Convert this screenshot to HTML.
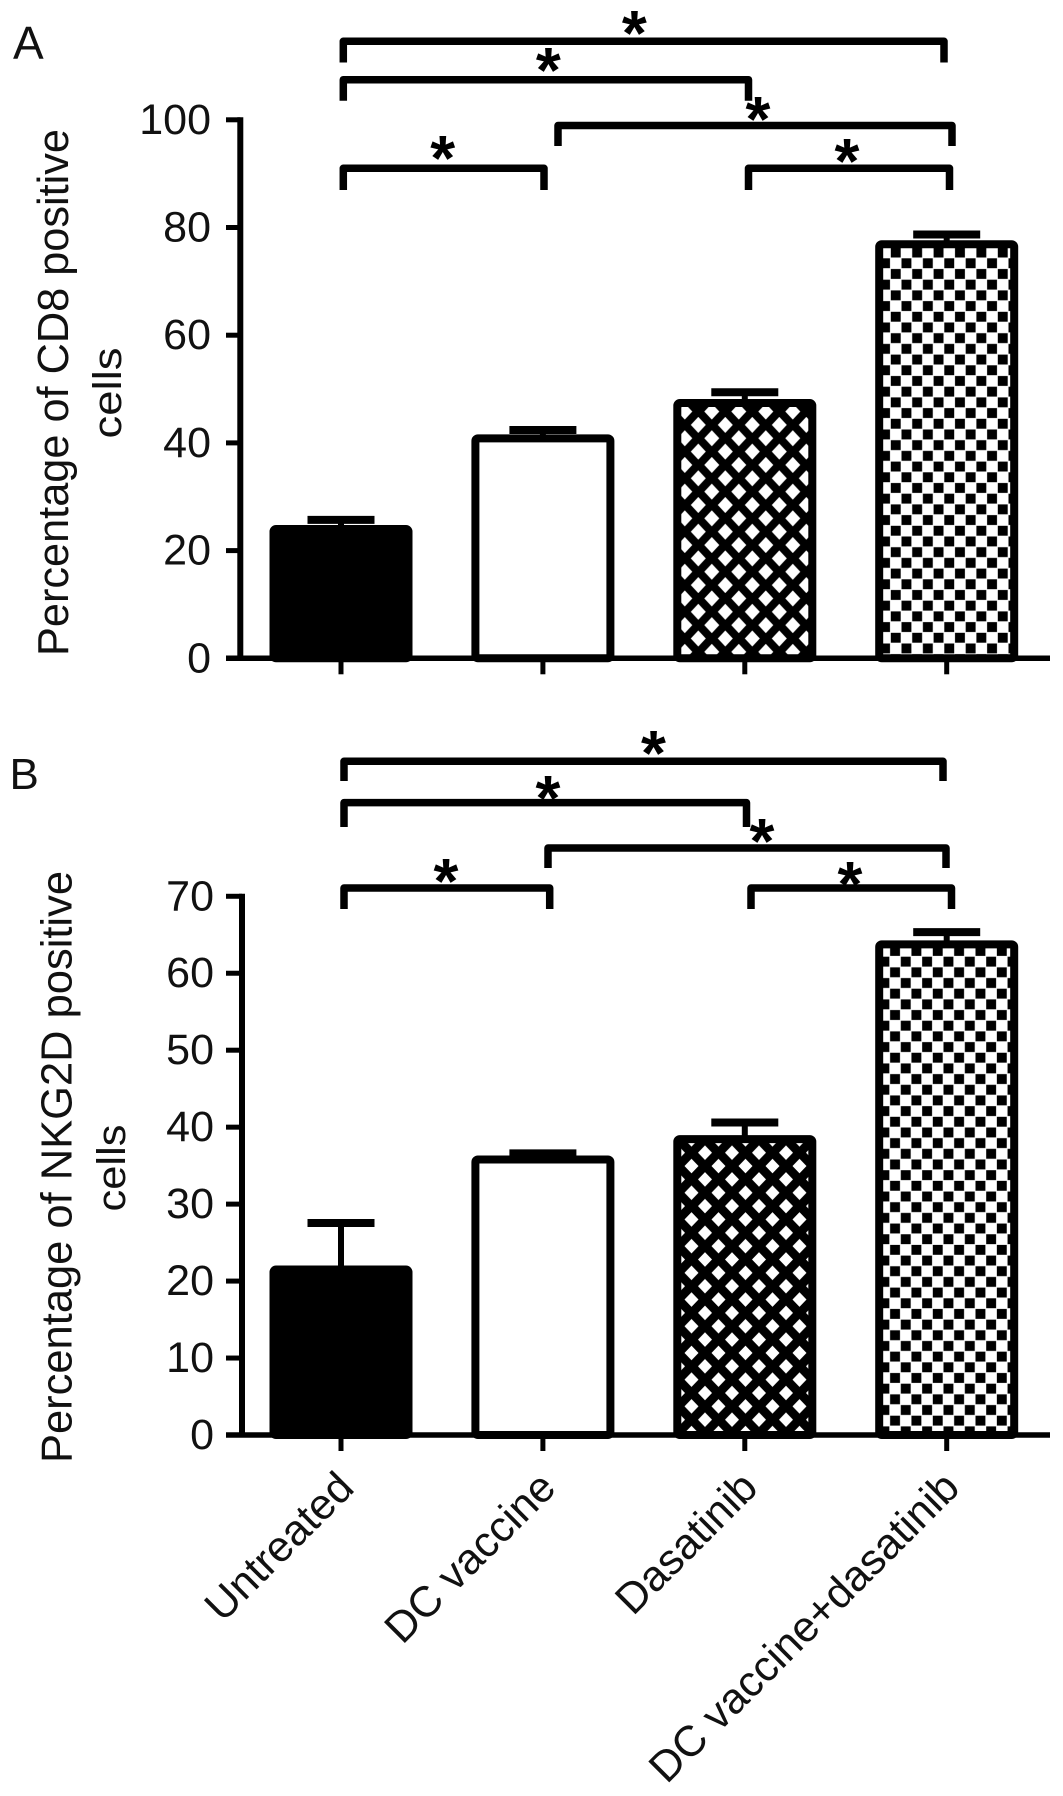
<!DOCTYPE html>
<html lang="en">
<head>
<meta charset="utf-8">
<title>CD8 and NKG2D positive cells</title>
<style>
html,body{margin:0;padding:0;background:#fff;}
svg{display:block;}
text{font-family:"Liberation Sans",sans-serif;fill:#111;}
.star{font-size:64px;font-weight:bold;text-anchor:middle;fill:#000;}
.br{fill:none;stroke:#000;stroke-width:7.5;stroke-linejoin:round;}
</style>
</head>
<body>
<svg id="chart" xmlns="http://www.w3.org/2000/svg" width="1063" height="1796" viewBox="0 0 1063 1796">
  <defs>
    <pattern id="lattice-a" patternUnits="userSpaceOnUse" width="27" height="26.7" x="684.8" y="518.35">
      <rect width="27" height="26.7" fill="#000"/>
      <path d="M13.5 5.35L21 13.35L13.5 21.35L6 13.35Z M0 -8L7.5 0L0 8L-7.5 0Z M27 -8L34.5 0L27 8L19.5 0Z M0 18.7L7.5 26.7L0 34.7L-7.5 26.7Z M27 18.7L34.5 26.7L27 34.7L19.5 26.7Z" fill="#fff"/>
    </pattern>
    <pattern id="lattice-b" patternUnits="userSpaceOnUse" width="27" height="26.7" x="691.5" y="1139.35">
      <rect width="27" height="26.7" fill="#000"/>
      <path d="M13.5 6L20.5 13.35L13.5 20.7L6.5 13.35Z M0 -7.35L7 0L0 7.35L-7 0Z M27 -7.35L34 0L27 7.35L20 0Z M0 19.35L7 26.7L0 34L-7 26.7Z M27 19.35L34 26.7L27 34L20 26.7Z" fill="#fff"/>
    </pattern>
    <pattern id="checker-a" patternUnits="userSpaceOnUse" width="21.4" height="21.4" x="890.4" y="525.4">
      <rect width="21.4" height="21.4" fill="#fff"/>
      <rect x="0.4" y="0.4" width="9.9" height="9.9" fill="#000"/>
      <rect x="11.1" y="11.1" width="9.9" height="9.9" fill="#000"/>
    </pattern>
    <pattern id="checker-b" patternUnits="userSpaceOnUse" width="21.35" height="21.35" x="889.7" y="1116.4">
      <rect width="21.35" height="21.35" fill="#fff"/>
      <rect x="0.4" y="0.4" width="9.9" height="9.9" fill="#000"/>
      <rect x="11.1" y="11.1" width="9.9" height="9.9" fill="#000"/>
    </pattern>
  </defs>

  <text x="13" y="59" font-size="46">A</text>
  <text x="9.5" y="789" font-size="44">B</text>

  <text transform="translate(68,392.5) rotate(-90)" text-anchor="middle" font-size="44" textLength="527" lengthAdjust="spacingAndGlyphs">Percentage of CD8 positive</text>
  <text transform="translate(121,393) rotate(-90)" text-anchor="middle" font-size="40" textLength="91" lengthAdjust="spacingAndGlyphs">cells</text>
  <text transform="translate(71.5,1167) rotate(-90)" text-anchor="middle" font-size="44" textLength="592" lengthAdjust="spacingAndGlyphs">Percentage of NKG2D positive</text>
  <text transform="translate(125,1168) rotate(-90)" text-anchor="middle" font-size="40" textLength="87" lengthAdjust="spacingAndGlyphs">cells</text>

  <g id="panel-a"></g>
  <g id="panel-b"></g>

  <g>
    <path class="br" d="M343.3 62.5V41.3H944V62.5"/>
    <path class="br" d="M343.3 100.7V79.7H748.5V100.7"/>
    <path class="br" d="M558 146V125.5H952V146"/>
    <path class="br" d="M343.3 190V168.3H544V190"/>
    <path class="br" d="M748.5 190V168.3H949.5V190"/>
    <text class="star" x="634.3" y="55">*</text>
    <text class="star" x="548.3" y="92">*</text>
    <text class="star" x="758" y="141">*</text>
    <text class="star" x="442.7" y="180">*</text>
    <text class="star" x="847" y="183">*</text>
  </g>
  <g>
    <path class="br" d="M344 781V761.3H943V781"/>
    <path class="br" d="M344 827V802.6H746.5V827"/>
    <path class="br" d="M548 868V848H946V868"/>
    <path class="br" d="M344 909V888H549.7V909"/>
    <path class="br" d="M751 909V888H951.5V909"/>
    <text class="star" x="653.5" y="775">*</text>
    <text class="star" x="548" y="820">*</text>
    <text class="star" x="762" y="863">*</text>
    <text class="star" x="446" y="903">*</text>
    <text class="star" x="850" y="906">*</text>
  </g>
</svg>
<script>
var categories = ["Untreated", "DC vaccine", "Dasatinib", "DC vaccine+dasatinib"];
var panelAValues = [24.0, 40.85, 47.4, 76.9];
var panelAErrors = [1.7, 1.55, 2.0, 1.8];
var panelATicks = [0, 20, 40, 60, 80, 100];
var panelBValues = [21.5, 35.8, 38.45, 63.75];
var panelBErrors = [6.05, 0.8, 2.15, 1.6];
var panelBTicks = [0, 10, 20, 30, 40, 50, 60, 70];

var NS = "http://www.w3.org/2000/svg";
function xPos(i) { return 341 + i * 201.9; }
function yA(v) { return 658.3 - v * 5.385; }
function yB(v) { return 1435 - v * 7.696; }

function make(parent, tag, props) {
  var el = document.createElementNS(NS, tag);
  for (var k in props) { el.setAttribute(k, props[k]); }
  parent.appendChild(el);
  return el;
}

function drawPanel(gId, yScale, values, errors, ticks, fills, axisX, tickRight, showLabels) {
  var g = document.getElementById(gId);
  var base = yScale(0);
  var barHalf = 67.5;
  var i, el;

  for (i = 0; i < values.length; i++) {
    var cx = xPos(i);
    var top = yScale(values[i]);
    var capY = yScale(values[i] + errors[i]);
    el = make(g, "line", { x1: cx, x2: cx, y1: top, y2: capY, stroke: "#000", "stroke-width": 6 });
    
    
    el = make(g, "line", { x1: cx - 33.5, x2: cx + 33.5, y1: capY, y2: capY, stroke: "#000", "stroke-width": 8 });
    
    
    el = make(g, "rect", { x: cx - barHalf, y: top, width: barHalf * 2, height: base - top, rx: 2.5, fill: fills[i], stroke: "#000", "stroke-width": 8 });
    
    
    el = make(g, "line", { x1: cx, x2: cx, y1: base, y2: base + 16, stroke: "#000", "stroke-width": 5 });
    
    
    if (showLabels) {
      el = make(g, "text", { transform: "translate(" + (cx + 15) + "," + (base + 55) + ") rotate(-45)", "text-anchor": "end", "font-size": 43 });
      el.textContent = categories[i];
      
      
    }
  }

  var top0 = yScale(ticks[ticks.length - 1]);
  el = make(g, "line", { x1: axisX, x2: axisX, y1: top0 - 2.5, y2: base, stroke: "#000", "stroke-width": 6 });
  
  
  el = make(g, "line", { x1: 226, x2: 1050, y1: base, y2: base, stroke: "#000", "stroke-width": 5.5 });
  
  

  for (i = 0; i < ticks.length; i++) {
    var ty = yScale(ticks[i]);
    el = make(g, "line", { x1: 226, x2: axisX, y1: ty, y2: ty, stroke: "#000", "stroke-width": 5 });
    
    
    el = make(g, "text", { x: tickRight, y: ty + 14, "text-anchor": "end", "font-size": 43 });
    el.textContent = String(ticks[i]);
    
    
  }
}

drawPanel("panel-a", yA, panelAValues, panelAErrors, panelATicks,
  ["#000", "#fff", "url(#lattice-a)", "url(#checker-a)"], 240.3, 211, false);
drawPanel("panel-b", yB, panelBValues, panelBErrors, panelBTicks,
  ["#000", "#fff", "url(#lattice-b)", "url(#checker-b)"], 242, 214, true);
</script>
</body>
</html>
